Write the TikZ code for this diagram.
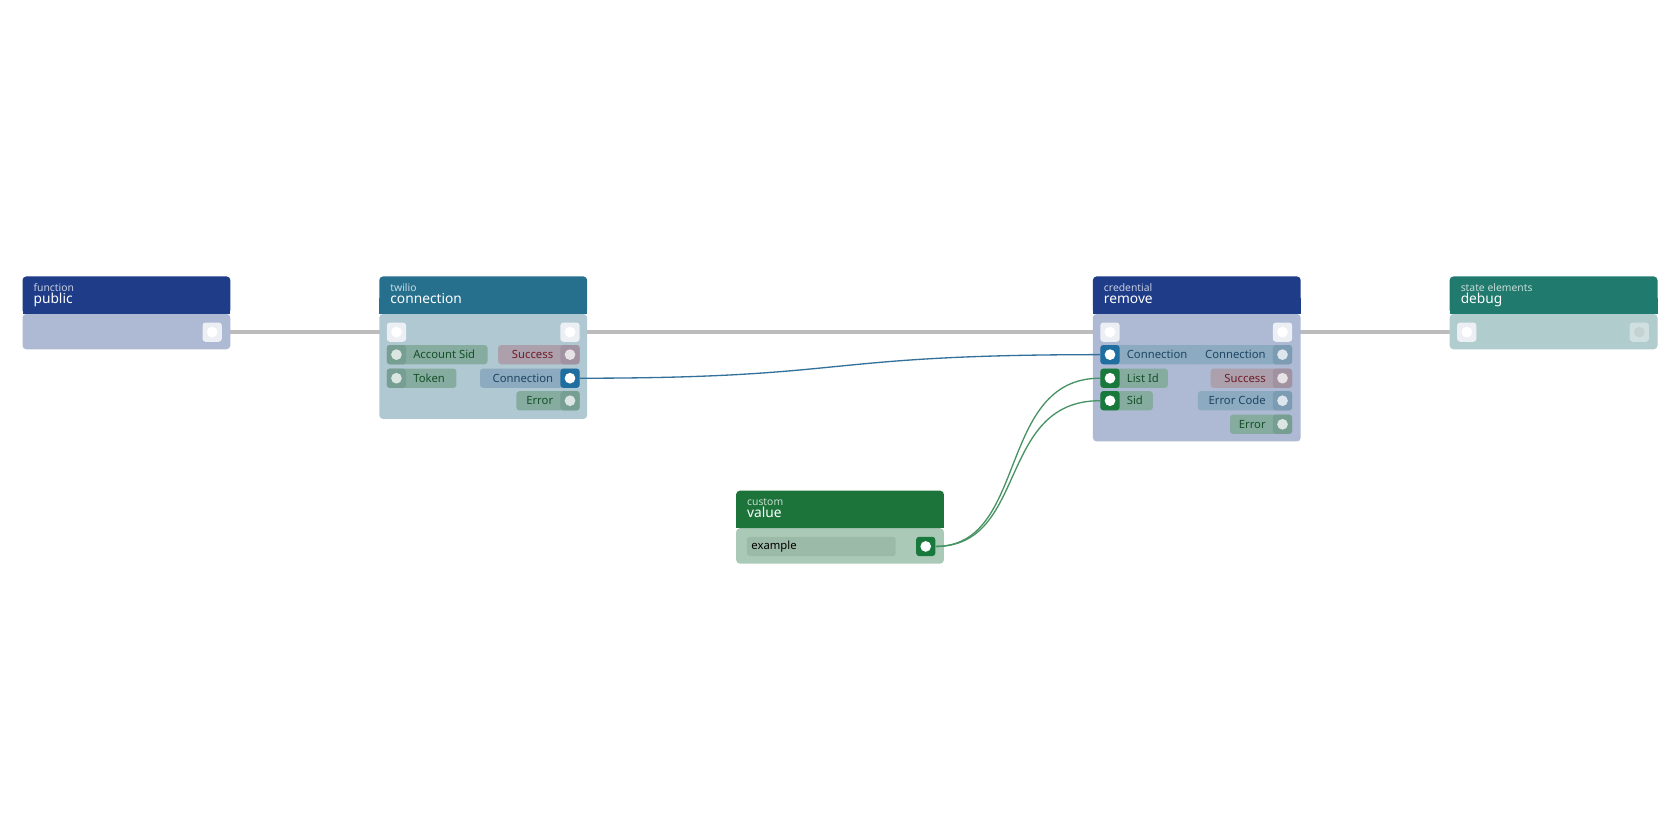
\documentclass[tikz,border=0pt]{standalone}
\usepackage{fontspec}
\setmainfont{Noto Sans}
\usetikzlibrary{positioning, calc}
\definecolor{FuncHead}{RGB}{31,60,136}
\definecolor{FuncBody}{RGB}{174,185,212}
\definecolor{TwilHead}{RGB}{38,112,142}
\definecolor{TwilBody}{RGB}{176,200,210}
\definecolor{DbgHead}{RGB}{33,122,110}
\definecolor{DbgBody}{RGB}{176,204,204}
\definecolor{ValHead}{RGB}{28,116,58}
\definecolor{ValBody}{RGB}{170,201,182}
\definecolor{PillGreen}{RGB}{134,172,160}
\definecolor{PortGreen}{RGB}{118,158,146}
\definecolor{TxtGreen}{RGB}{20,80,40}
\definecolor{PillRed}{RGB}{172,160,172}
\definecolor{PortRed}{RGB}{160,146,160}
\definecolor{TxtRed}{RGB}{110,30,40}
\definecolor{PillBlue}{RGB}{140,170,192}
\definecolor{PortBlue}{RGB}{124,156,180}
\definecolor{TxtBlue}{RGB}{30,70,100}
\definecolor{LinkBlue}{RGB}{30,110,160}
\definecolor{LinkGreen}{RGB}{25,120,60}
\definecolor{ExecPort}{RGB}{236,240,245}
\definecolor{WireGrey}{RGB}{188,188,188}
\definecolor{FieldGrey}{RGB}{156,186,168}
\tikzset{
  port/.style={rounded corners=1.6pt, inner sep=0pt, minimum size=0.36cm},
  dot/.style={circle, fill=#1, inner sep=0pt, minimum size=0.2cm},
  plabel/.style={font=\fontsize{6}{7}\selectfont, inner sep=0pt},
  wire/.style={line width=2.2pt, WireGrey},
  link/.style={line width=0.7pt, #1},
}
% node box: name, x, y top, body bottom, head colour, body colour, small title, title
\newcommand{\flownode}[8]{
  \fill[#6, rounded corners=2pt] (#2,#3+35) rectangle (#2+194,#4);
  \fill[#5, rounded corners=2pt] (#2,#3) rectangle (#2+194,#3+35);
  \fill[#5] (#2,#3+20) rectangle (#2+194,#3+35);
  \node[plabel, anchor=base west, white!75!#5, font=\fontsize{5.5}{6}\selectfont] (#1-kind) at (#2+10,#3+14) {#7};
  \node[plabel, anchor=base west, white, font=\fontsize{7.3}{8}\selectfont] (#1) at (#2+10,#3+25) {#8};
}
% input pill: name, x, y, width, label, pill colour, port colour, text colour, dot colour
\newcommand{\inpill}[9]{
  \fill[#6, rounded corners=1.6pt] (#2-9,#3-9) rectangle (#2-9+#4,#3+9);
  \node[port, fill=#7] (#1) at (#2,#3) {};
  \node[dot=#9] at (#1) {};
  \node[plabel, anchor=west, #8] at ($(#1.east)+(6,0)$) {#5};
}
\newcommand{\outpill}[9]{
  \fill[#6, rounded corners=1.6pt] (#2+9-#4,#3-9) rectangle (#2+9,#3+9);
  \node[port, fill=#7] (#1) at (#2,#3) {};
  \node[dot=#9] at (#1) {};
  \node[plabel, anchor=east, #8] at ($(#1.west)+(-6,0)$) {#5};
}
\begin{document}
\begin{tikzpicture}[x=0.02cm, y=-0.02cm]
  \useasboundingbox[fill=white] (0,0) rectangle (1568,784);
  % wires
  \draw[wire] (198,310) -- (370,310);
  \draw[wire] (532,310) -- (1036,310);
  \draw[wire] (1197,310) -- (1369,310);
  % nodes
  \flownode{public}{21}{258}{326}{FuncHead}{FuncBody}{function}{public}
  \flownode{conn}{354}{258}{391}{TwilHead}{TwilBody}{twilio}{connection}
  \flownode{remove}{1020}{258}{412}{FuncHead}{FuncBody}{credential}{remove}
  \flownode{debug}{1353}{258}{326}{DbgHead}{DbgBody}{state elements}{debug}
  \flownode{value}{687}{458}{526}{ValHead}{ValBody}{custom}{value}
  % exec ports
  \node[port, fill=ExecPort] (public-out) at (198,310) {};
  \node[port, fill=ExecPort] (conn-in) at (370,310) {};
  \node[port, fill=ExecPort] (conn-out) at (532,310) {};
  \node[port, fill=ExecPort] (remove-in) at (1036,310) {};
  \node[port, fill=ExecPort] (remove-out) at (1197,310) {};
  \node[port, fill=ExecPort] (debug-in) at (1369,310) {};
  \node[port, fill=white!40!DbgBody] (debug-out) at (1530,310) {};
  \foreach \p in {public-out, conn-in, conn-out, remove-in, remove-out, debug-in}
    \node[dot=white] at (\p) {};
  \node[dot=white!40!DbgBody!85!gray] at (debug-out) {};
  % twilio connection pins
  \inpill{conn-sid}{370}{331}{94}{Account Sid}{PillGreen}{PortGreen}{TxtGreen}{white!70!PillGreen}
  \inpill{conn-token}{370}{353}{65}{Token}{PillGreen}{PortGreen}{TxtGreen}{white!70!PillGreen}
  \outpill{conn-ok}{532}{331}{76}{Success}{PillRed}{PortRed}{TxtRed}{white!70!PillRed}
  \outpill{conn-conn}{532}{353}{93}{Connection}{PillBlue}{LinkBlue}{TxtBlue}{white}
  \outpill{conn-err}{532}{374}{59}{Error}{PillGreen}{PortGreen}{TxtGreen}{white!70!PillGreen}
  % credential remove pins
  \outpill{rem-oconn}{1197}{331}{93}{Connection}{PillBlue}{PortBlue}{TxtBlue}{white!70!PillBlue}
  \inpill{rem-conn}{1036}{331}{90}{Connection}{PillBlue}{LinkBlue}{TxtBlue}{white}
  \inpill{rem-list}{1036}{353}{63}{List Id}{PillGreen}{LinkGreen}{TxtGreen}{white}
  \inpill{rem-sid}{1036}{374}{49}{Sid}{PillGreen}{LinkGreen}{TxtGreen}{white}
  \outpill{rem-ok}{1197}{353}{76}{Success}{PillRed}{PortRed}{TxtRed}{white!70!PillRed}
  \outpill{rem-code}{1197}{374}{88}{Error Code}{PillBlue}{PortBlue}{TxtBlue}{white!70!PillBlue}
  \outpill{rem-err}{1197}{396}{58}{Error}{PillGreen}{PortGreen}{TxtGreen}{white!70!PillGreen}
  % value field
  \fill[FieldGrey, rounded corners=1.6pt] (697,501) rectangle (836,519);
  \node[plabel, anchor=west, black] (value-field) at (701,510) {example};
  \node[port, fill=LinkGreen] (value-out) at (864,510) {};
  \node[dot=white] at (value-out) {};
  % data links
  \draw[link=LinkBlue!80!gray] (conn-conn.east) .. controls (800,353) and (760,331) .. (rem-conn.west);
  \draw[link=LinkGreen!80!white] (value-out.east) .. controls (960,510) and (930,353) .. (rem-list.west);
  \draw[link=LinkGreen!80!white] (value-out.east) .. controls (960,510) and (930,374) .. (rem-sid.west);
\end{tikzpicture}
\end{document}
